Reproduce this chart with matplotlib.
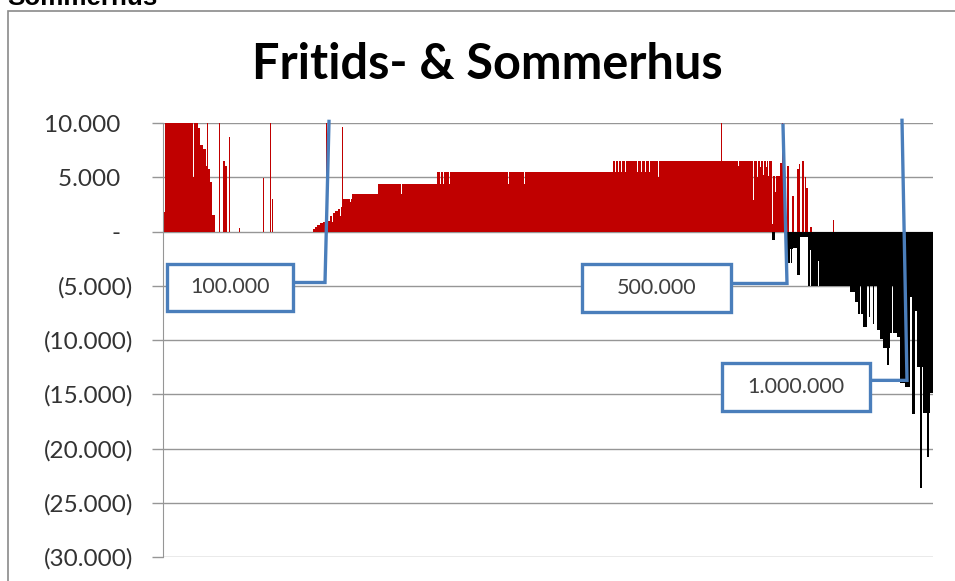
import numpy as np
import matplotlib
matplotlib.use("Agg")
import matplotlib.pyplot as plt
from matplotlib.patches import Rectangle
from matplotlib.ticker import FuncFormatter, MultipleLocator

plt.rcParams["font.family"] = ["Lato", "DejaVu Sans"]

# one bar per property, sorted by price; each series given as (first bar, value) steps
n_bars = 770

gain_start = [0, 2, 30, 31, 35, 37, 40, 43, 44, 45, 47, 49, 52, 56, 57, 60, 62, 64, 66, 67,
              76, 77, 100, 101, 107, 108, 109, 110, 150, 152, 154, 157, 160, 163, 164, 167,
              169, 170, 172, 175, 177, 178, 179, 180, 187, 188, 189, 215, 238, 239, 274, 277,
              278, 280, 281, 286, 287, 345, 346, 361, 362, 450, 452, 453, 455, 456, 458, 459,
              462, 463, 474, 475, 478, 479, 482, 483, 486, 487, 495, 496, 558, 559, 575, 576,
              590, 591, 594, 595, 597, 598, 600, 601, 603, 604, 605, 606, 609, 610, 612, 613,
              617, 619, 620, 622, 624, 626, 629, 631, 634, 636, 637, 639, 641, 642, 643, 645,
              647, 649, 670, 671]
gain_value = [1800, 10000, 5000, 10000, 9500, 8000, 7600, 6000, 10000, 5800, 4600, 1500, 0,
              10000, 0, 6500, 6000, 0, 8700, 0, 300, 0, 4900, 0, 10000, 0, 2950, 0, 200, 400,
              600, 800, 900, 10000, 1000, 1400, 900, 1700, 1900, 2100, 1400, 2300, 9600, 3000,
              2700, 3000, 3500, 4400, 3500, 4400, 5500, 4400, 5500, 4400, 5500, 4400, 5500,
              4400, 5500, 4400, 5500, 6500, 5500, 6500, 5500, 6500, 5500, 6500, 5500, 6500,
              5500, 6500, 5500, 6500, 5500, 6500, 5500, 6500, 5000, 6500, 10000, 6500, 6000,
              6500, 2900, 6500, 5000, 6500, 5900, 6500, 5200, 6500, 5900, 6500, 5100, 6500,
              700, 5100, 3600, 5100, 6300, 10000, 6300, 0, 6000, 0, 3300, 0, 5800, 6200, 0,
              6500, 0, 5000, 4000, 0, 400, 0, 1100, 0]

loss_start = [0, 609, 612, 624, 627, 628, 629, 630, 634, 637, 645, 647, 648, 655, 656, 687,
              692, 695, 697, 698, 700, 704, 706, 707, 710, 711, 714, 717, 720, 724, 726, 727,
              729, 730, 734, 737, 742, 747, 749, 752, 754, 757, 759, 760, 764, 766, 767]
loss_value = [0, -800, 0, -2900, -1600, -2900, -1600, -1500, -4000, -500, -5000, -1750,
              -5000, -2700, -5000, -5600, -6500, -7600, -5000, -7600, -8800, -5000, -7900,
              -5000, -8500, -5000, -9100, -9900, -10700, -12300, -10700, -9400, -5000, -9400,
              -9700, -14000, -14300, -6000, -16800, -7300, -12500, -23600, -12500, -16700,
              -20800, -16700, -14900]

# price markers
marker_text = ["100.000", "500.000", "1.000.000"]
marker_bar = [166, 620, 739]


def steps(starts, values):
    lengths = np.diff(np.append(starts, n_bars))
    return np.repeat(values, lengths)


def dk_number(v, pos=None):
    s = f"{abs(v):,.0f}".replace(",", ".")
    if v < 0:
        return f"({s})"
    if v == 0:
        return "-  "
    return s + "  "


gain = steps(gain_start, gain_value)
loss = steps(loss_start, loss_value)
x = np.arange(n_bars)

W, H = 955, 581
fig = plt.figure(figsize=(W / 100, H / 100), dpi=100)

# chart frame and the heading above it
fig.add_artist(Rectangle((8 / W, -0.1), 1.2, 1.1 - 10.5 / H, transform=fig.transFigure,
                         fill=False, edgecolor="#8a8a8a", linewidth=1.2))
fig.text(7 / W, 1 - 5 / H, "Sommerhus", fontsize=18.7, fontweight="bold",
         family="Liberation Sans", va="baseline", ha="left")
fig.text(487 / W, 1 - 79 / H, "Fritids- & Sommerhus", fontsize=35, fontweight="bold",
         ha="center", va="baseline", color="#000000")

ax = fig.add_axes([163 / W, 1 - 557 / H, 770 / W, 434 / H])
ax.bar(x, gain, width=1, align="edge", color="#c00000", linewidth=0)
ax.bar(x, loss, width=1, align="edge", color="#000000", linewidth=0)

ax.set_xlim(0, n_bars)
ax.set_ylim(-30000, 10000)
ax.yaxis.set_major_locator(MultipleLocator(5000))
ax.yaxis.set_major_formatter(FuncFormatter(dk_number))
ax.grid(axis="y", color="#969696", linewidth=1.0)
ax.set_axisbelow(True)
for side in ["top", "right", "bottom"]:
    ax.spines[side].set_visible(False)
ax.spines["left"].set_color("#969696")
ax.tick_params(axis="y", length=8, width=1, color="#969696", pad=13.5,
               labelsize=17.5, labelcolor="#333333")
ax.tick_params(axis="x", bottom=False, labelbottom=False)

# callout boxes with leader lines up to the price markers
box_x = [(4, 130), (419, 568), (559, 707)]
box_y = [(-7370, -2950), (-7460, -3040), (-16580, -12160)]
elbow_bar = [162, 624, 744]
elbow_y = [-4700, -4790, -13720]
line_top = [10150, 9800, 10250]
blue = "#4a7ebb"
for label, top_bar, ex, ey, (x0, x1), (y0, y1), yt in zip(
        marker_text, marker_bar, elbow_bar, elbow_y, box_x, box_y, line_top):
    ax.plot([x1, ex, top_bar], [ey, ey, yt], color=blue, linewidth=2.4,
            solid_joinstyle="miter", clip_on=False, zorder=5)
    ax.add_patch(Rectangle((x0, y0), x1 - x0, y1 - y0, facecolor="white",
                           edgecolor=blue, linewidth=2.4, zorder=6, clip_on=False))
    ax.text((x0 + x1) / 2, (y0 + y1) / 2, label, ha="center", va="center",
            fontsize=15.5, color="#404040", zorder=7)

fig.savefig("out.png", dpi=100)
